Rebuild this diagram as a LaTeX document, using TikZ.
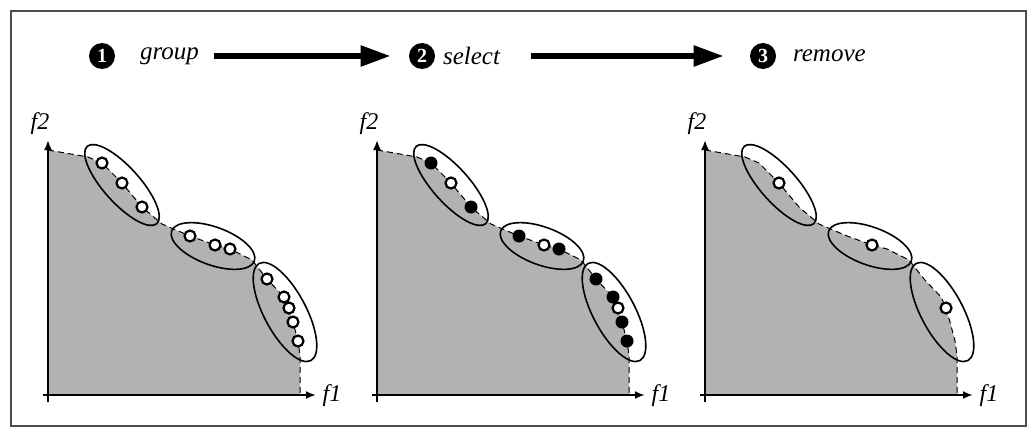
\documentclass[tikz,border=0pt]{standalone}
\usepackage{fontspec}
\setmainfont{Liberation Serif}
\usetikzlibrary{positioning, arrows.meta}

\tikzset{
  axis/.style={line width=1pt, -{Latex[length=5pt,width=4pt]}},
  front/.style={dashed, dash pattern=on 3pt off 2pt, line width=0.5pt},
  cluster/.style={draw, line width=0.8pt},
  wpt/.style={circle, draw, fill=white, line width=1.1pt, inner sep=0pt, minimum size=5.5pt},
  bpt/.style={circle, fill=black, inner sep=0pt, minimum size=6.5pt},
  stepnum/.style={circle, fill=black, text=white, font=\bfseries\fontsize{10}{10}\selectfont, inner sep=0pt, minimum size=13pt},
  steplabel/.style={anchor=west, font=\itshape\fontsize{12.5}{14}\selectfont},
  axislabel/.style={font=\itshape\fontsize{12}{14}\selectfont},
  bigarrow/.style={line width=2.8pt, -{Triangle[length=15pt,width=10pt]}}
}

% pareto front of one panel
\newcommand{\frontline}{(48,150) -- (88,157) -- (102,163) -- (122,183) -- (142,207) -- (162,224) -- (190,236) -- (215,245) -- (230,249) -- (252,260) -- (267,279) -- (284,297) -- (289,308) -- (293,322) -- (298,341) -- (300,355) -- (300,395)}

% axes, dominated region and the three clusters
\newcommand{\panelbase}[1]{%
  \fill[black!30] (48,395) -- \frontline -- cycle;
  \draw[front] \frontline;
  \draw[axis] (43,395) -- (316,395);
  \draw[axis] (48,402) -- (48,140);
  \node[axislabel] (#1f1) at (332,396) {f1};
  \node[axislabel] (#1f2) at (40,124) {f2};
  \draw[cluster, rotate around={-48:(122,185)}] (122,185) ellipse [x radius=52, y radius=18];
  \draw[cluster, rotate around={-20:(213,246)}] (213,246) ellipse [x radius=44, y radius=19];
  \draw[cluster, rotate around={-62:(285,312)}] (285,312) ellipse [x radius=55, y radius=21];
}

\begin{document}
\begin{tikzpicture}[x=0.5pt, y=-0.5pt]
    \useasboundingbox (0,0) rectangle (1031,433);
    % Frame
    \draw[black!70, line width=0.8pt] (11,11) rectangle (1026,426);

    % Steps
    \node[stepnum] (n1) at (102,56) {1};
    \node[steplabel] (group) at (133,56) {group};
    \node[stepnum] (n2) at (422,56) {2};
    \node[steplabel] (select) at (436,56) {select};
    \node[stepnum] (n3) at (763,56) {3};
    \node[steplabel] (remove) at (786,56) {remove};

    \draw[bigarrow] ([xshift=4pt]group.east) -- ([xshift=-9pt]n2.west);
    \draw[bigarrow] ([xshift=12pt]select.east) -- ([xshift=-13pt]n3.west);

    % Panel 1: group
    \begin{scope}
      \panelbase{a}
      \foreach \px/\py [count=\i] in {102/163, 122/183, 142/207, 190/236, 215/245, 230/249, 267/279, 284/297, 289/308, 293/322, 298/341}
        \node[wpt] (a\i) at (\px,\py) {};
    \end{scope}

    % Panel 2: select
    \begin{scope}[shift={(329,0)}]
      \panelbase{b}
      \foreach \px/\py/\s [count=\i] in {102/163/bpt, 122/183/wpt, 142/207/bpt, 190/236/bpt, 215/245/wpt, 230/249/bpt, 267/279/bpt, 284/297/bpt, 289/308/wpt, 293/322/bpt, 298/341/bpt}
        \node[\s] (b\i) at (\px,\py) {};
    \end{scope}

    % Panel 3: remove
    \begin{scope}[shift={(657,0)}]
      \panelbase{c}
      \foreach \px/\py [count=\i] in {122/183, 215/245, 289/308}
        \node[wpt] (c\i) at (\px,\py) {};
    \end{scope}
  \end{tikzpicture}
\end{document}
